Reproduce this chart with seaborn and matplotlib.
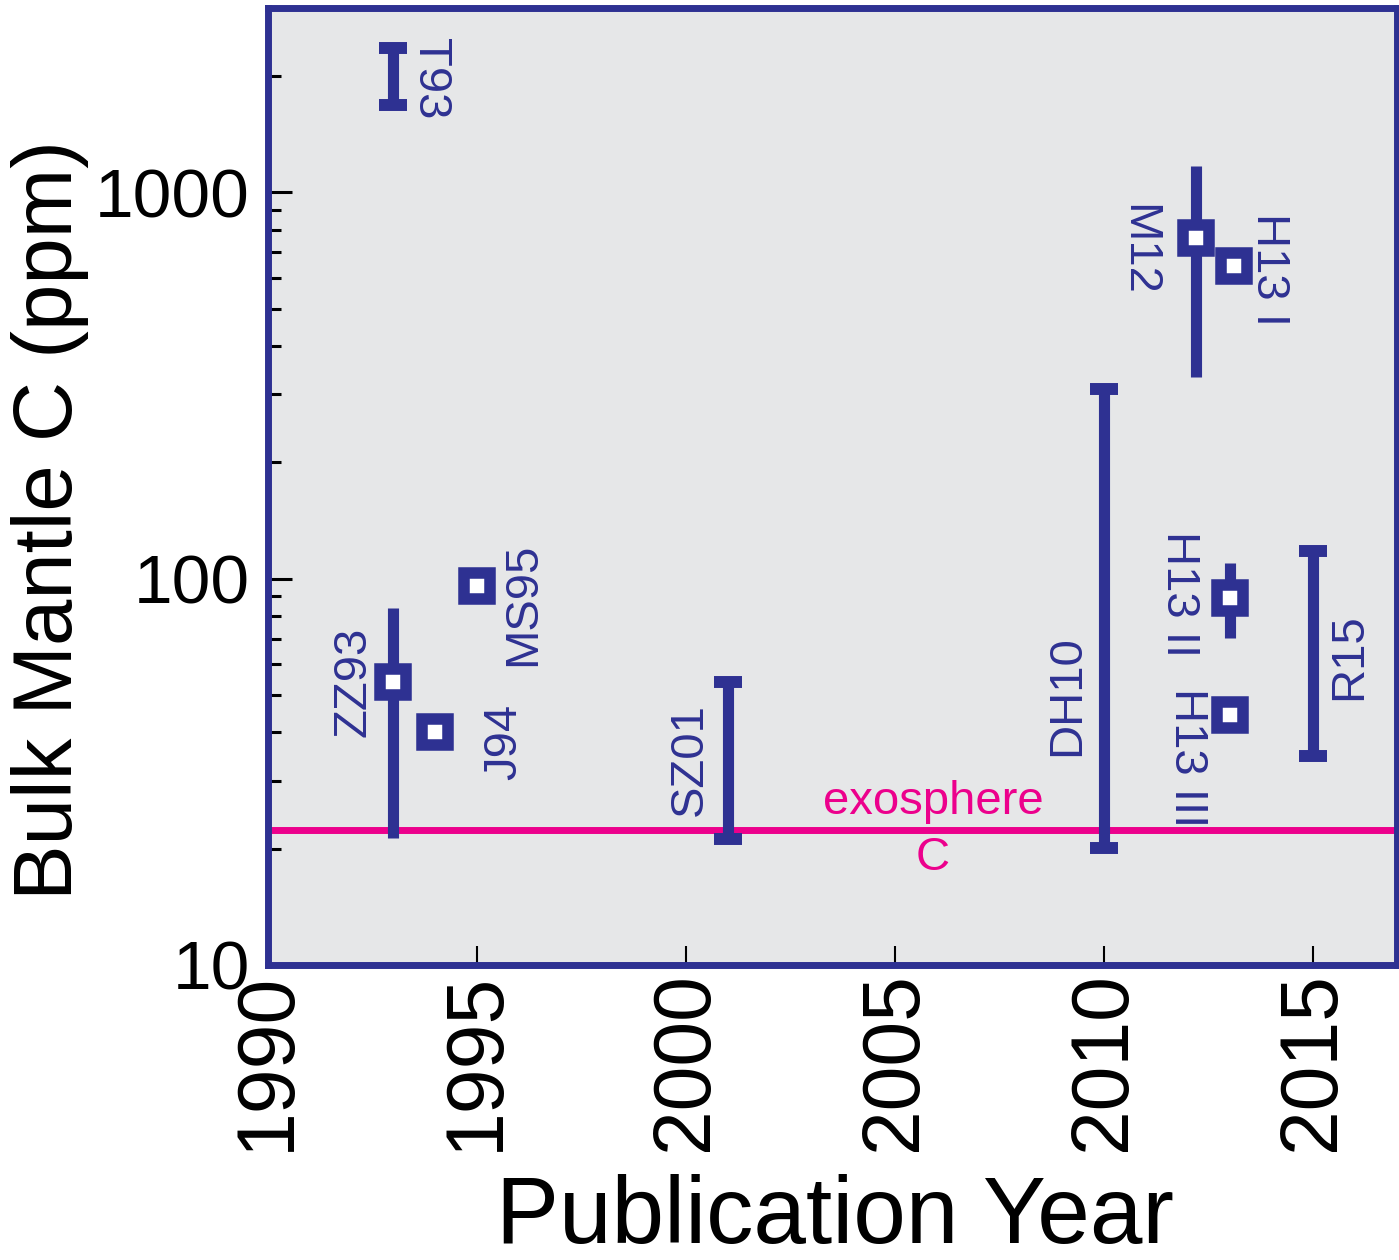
import numpy as np
import pandas as pd
import matplotlib
matplotlib.use('Agg')
import matplotlib.pyplot as plt
import seaborn as sns

# colours
BLUE = '#2E3192'
PINK = '#EC008C'
BG = '#E6E7E8'

# point estimates (squares)
pt_labels = ['ZZ93', 'J94', 'MS95', 'M12', 'H13 I', 'H13 II', 'H13 III']
pt_years = [1993, 1994, 1995, 2012.2, 2013.1, 2013, 2013]
pt_values = [54, 40, 96, 760, 643, 89, 44.5]

# ranges (vertical bars)
rng_labels = ['T93', 'ZZ93', 'SZ01', 'DH10', 'M12', 'H13 II', 'R15']
rng_years = [1993, 1993, 2001, 2010, 2012.2, 2013, 2015]
rng_low = [1680, 21.3, 21.2, 20.1, 333, 70.3, 34.7]
rng_high = [2360, 84, 54, 310, 1167, 110, 117.7]
rng_caps = [True, False, True, True, False, False, True]

# study labels: name, year, value, rotation
txt_names = ['T93', 'M12', 'H13 I', 'ZZ93', 'J94', 'MS95', 'SZ01', 'DH10', 'H13 II', 'H13 III', 'R15']
txt_years = [1993.88, 2010.8, 2013.93, 1992.05, 1995.65, 1996.1, 2000.1, 2009.1, 2011.78, 2011.98, 2015.85]
txt_values = [1965, 711, 632, 54, 37.9, 86, 34, 49.8, 91.4, 34.4, 62.8]
txt_rot = [270, 270, 270, 90, 90, 90, 90, 90, 270, 270, 90]

exo_value = 22.3

x_ticks = [1990, 1995, 2000, 2005, 2010, 2015]
y_ticks = [10, 100, 1000]

sns.set_theme(style='ticks')
plt.rcParams['font.family'] = ['Liberation Sans', 'DejaVu Sans']
plt.rcParams['text.color'] = 'black'
plt.rcParams['xtick.labelcolor'] = 'black'
plt.rcParams['ytick.labelcolor'] = 'black'

fig = plt.figure(figsize=(13.99, 12.6), dpi=100)
ax = fig.add_axes([268 / 1399, 1 - 965 / 1260, 1129 / 1399, 957 / 1260])
ax.set_facecolor(BG)

# exosphere line under everything
ax.axhline(exo_value, color=PINK, lw=5, zorder=1)

# bars
ax.vlines(rng_years, rng_low, rng_high, colors=BLUE, linewidth=8, zorder=2)
cap_df = pd.DataFrame({'year': rng_years, 'low': rng_low, 'high': rng_high, 'cap': rng_caps})
cap_df = cap_df[cap_df['cap']]
for col in ['low', 'high']:
    ax.plot(cap_df['year'], cap_df[col], ls='none', marker='_', ms=20, mew=8.6,
            color=BLUE, zorder=2)

# squares
pts = pd.DataFrame({'year': pt_years, 'value': pt_values, 'label': pt_labels})
sns.scatterplot(data=pts, x='year', y='value', marker='s', s=19 ** 2,
                facecolor='white', edgecolor=BLUE, linewidth=8.3, zorder=3, ax=ax)
ax.collections[-1].set_joinstyle('miter')

# labels
for name, yr, val, rot in zip(txt_names, txt_years, txt_values, txt_rot):
    ax.text(yr, val, name, rotation=rot, ha='center', va='center', fontsize=34,
            color=BLUE, zorder=4)
ax.text(2005.9, 26.4, 'exosphere', ha='center', va='center', fontsize=34, color=PINK)
ax.text(2005.9, 18.9, 'C', ha='center', va='center', fontsize=34, color=PINK)

ax.set_yscale('log')
ax.set_xlim(1990, 2017)
ax.set_ylim(10, 3000)

ax.set_xticks(x_ticks)
ax.set_xticklabels([str(t) for t in x_ticks], rotation=90, fontsize=58)
ax.set_yticks(y_ticks)
ax.set_yticklabels([str(t) for t in y_ticks], fontsize=50)
ax.xaxis.set_minor_locator(matplotlib.ticker.NullLocator())
ax.yaxis.set_minor_locator(matplotlib.ticker.LogLocator(base=10, subs=np.arange(2, 10)))
ax.yaxis.set_minor_formatter(matplotlib.ticker.NullFormatter())
ax.tick_params(axis='y', which='major', direction='in', length=17, width=2.2,
               color='black', pad=13)
ax.tick_params(axis='y', which='minor', direction='in', length=9, width=2.2, color='black')
ax.tick_params(axis='x', which='major', direction='in', length=14, width=1.5,
               color='black', pad=5)
ax.set_xlabel('')
ax.set_ylabel('')

for sp in ax.spines.values():
    sp.set_visible(True)
    sp.set_color(BLUE)
    sp.set_linewidth(5)
    sp.set_zorder(5)

fig.text(50 / 1399, 1 - 520 / 1260, 'Bulk Mantle C (ppm)', rotation=90,
         ha='center', va='center', fontsize=60, color='black')
fig.text(835 / 1399, 17 / 1260, 'Publication Year', ha='center', va='baseline',
         fontsize=68, color='black')

fig.savefig('out.png', dpi=100)
